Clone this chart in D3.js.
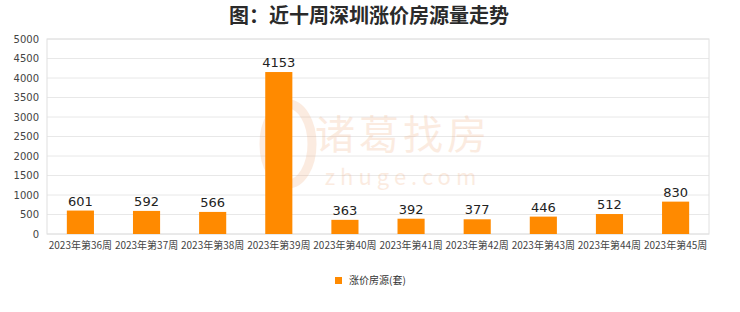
<!DOCTYPE html>
<html>
<head>
<meta charset="utf-8">
<script src="https://cdn.jsdelivr.net/npm/d3@7"></script>
<style>
  body { margin: 0; background: #fff; }
  text { font-family: "Noto Sans CJK SC", "DejaVu Sans", sans-serif; }
</style>
</head>
<body>
<div id="chart"></div>
<script>
const weeks = ["2023年第36周","2023年第37周","2023年第38周","2023年第39周","2023年第40周",
               "2023年第41周","2023年第42周","2023年第43周","2023年第44周","2023年第45周"];
const listings = [601, 592, 566, 4153, 363, 392, 377, 446, 512, 830];
const yTicks = [0, 500, 1000, 1500, 2000, 2500, 3000, 3500, 4000, 4500, 5000];
const seriesName = "涨价房源(套)";

const width = 740, height = 312;
const margin = ({top: 39, right: 31, bottom: 78, left: 47});
const innerW = width - margin.left - margin.right;
const innerH = height - margin.top - margin.bottom;

const svg = d3.select("#chart").append("svg")
  .attr("width", width).attr("height", height);

// title
svg.append("text")
  .attr("x", 369).attr("y", 23)
  .attr("text-anchor", "middle")
  .attr("font-size", 20).attr("font-weight", "bold")
  .attr("fill", "#2a2a2a")
  .text("图：近十周深圳涨价房源量走势");

const g = svg.append("g").attr("transform", `translate(${margin.left},${margin.top})`);

const x = d3.scaleBand().domain(weeks).range([0, innerW]).paddingInner(0.59).paddingOuter(0.3);
const y = d3.scaleLinear().domain([0, 5000]).range([innerH, 0]);

// grid
g.selectAll(".grid").data(yTicks).join("line")
  .attr("x1", 0).attr("x2", innerW)
  .attr("y1", d => y(d)).attr("y2", d => y(d))
  .attr("stroke", "#e8e8e8");

// watermark
const wm = g.append("g").attr("opacity", 0.22);
wm.append("text").attr("x", innerW / 2 + 25).attr("y", 110)
  .attr("text-anchor", "middle").attr("font-size", 40).attr("fill", "#f0a878")
  .attr("letter-spacing", 4)
  .text("诸葛找房");
wm.append("text").attr("x", innerW / 2 + 25).attr("y", 146)
  .attr("text-anchor", "middle").attr("font-size", 22).attr("fill", "#f0a878")
  .attr("letter-spacing", 5)
  .text("zhuge.com");
wm.append("ellipse").attr("cx", innerW / 2 - 90).attr("cy", 105)
  .attr("rx", 24).attr("ry", 40).attr("fill", "none")
  .attr("stroke", "#f0a878").attr("stroke-width", 9);

// frame
g.append("rect").attr("width", innerW).attr("height", innerH)
  .attr("fill", "none").attr("stroke", "#e0e0e0");

// bars
g.selectAll(".bar").data(listings).join("rect")
  .attr("x", (d, i) => x(weeks[i]))
  .attr("y", d => y(d))
  .attr("width", x.bandwidth())
  .attr("height", d => innerH - y(d))
  .attr("fill", "#ff8a00");

g.selectAll(".val").data(listings).join("text")
  .attr("x", (d, i) => x(weeks[i]) + x.bandwidth() / 2)
  .attr("y", d => y(d) - 5)
  .attr("text-anchor", "middle")
  .style("font-family", "DejaVu Sans, sans-serif")
  .attr("font-size", 13).attr("fill", "#222")
  .text(d => d);

// axes
const yAxis = g.append("g").call(d3.axisLeft(y).tickValues(yTicks).tickFormat(d3.format("d")).tickSize(0).tickPadding(8));
yAxis.select(".domain").remove();
yAxis.selectAll("text").attr("font-size", 10).attr("fill", "#444")
  .style("font-family", "DejaVu Sans, sans-serif");

const xAxis = g.append("g").attr("transform", `translate(0,${innerH})`)
  .call(d3.axisBottom(x).tickSize(0).tickPadding(8));
xAxis.select(".domain").remove();
xAxis.selectAll("text").attr("font-size", 10).attr("fill", "#444");

// legend
const lg = svg.append("g").attr("transform", "translate(335,281)");
lg.append("rect").attr("x", 0).attr("y", -4).attr("width", 7).attr("height", 7).attr("fill", "#ff8a00");
lg.append("text").attr("x", 14).attr("y", 3).attr("font-size", 10).attr("fill", "#333").text(seriesName);
</script>
</body>
</html>
